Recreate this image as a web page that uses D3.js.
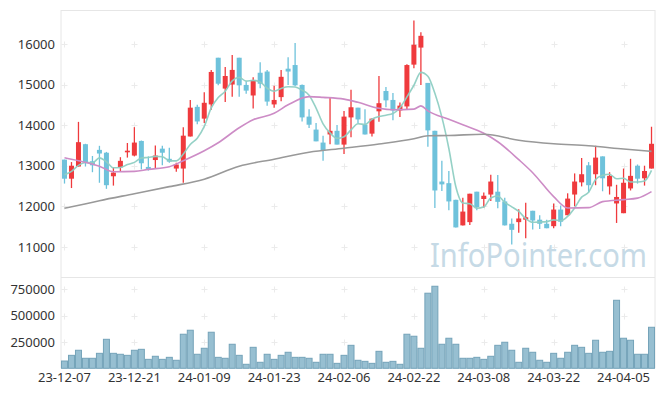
<!DOCTYPE html>
<html><head><meta charset="utf-8">
<script src="https://cdn.jsdelivr.net/npm/d3@7/dist/d3.min.js"></script>
<style>
body{margin:0;background:#fff}
svg{display:block}
text{font-family:"Noto Sans","Open Sans",sans-serif}
</style>
</head><body><svg id="chart" width="665" height="396"></svg>
<script>
const dates = ["23-12-07","23-12-08","23-12-11","23-12-12","23-12-13","23-12-14","23-12-15","23-12-18","23-12-19","23-12-20",
"23-12-21","23-12-22","23-12-26","23-12-27","23-12-28","24-01-02","24-01-03","24-01-04","24-01-05","24-01-08",
"24-01-09","24-01-10","24-01-11","24-01-12","24-01-15","24-01-16","24-01-17","24-01-18","24-01-19","24-01-22",
"24-01-23","24-01-24","24-01-25","24-01-26","24-01-29","24-01-30","24-01-31","24-02-01","24-02-02","24-02-05",
"24-02-06","24-02-07","24-02-08","24-02-13","24-02-14","24-02-15","24-02-16","24-02-19","24-02-20","24-02-21",
"24-02-22","24-02-23","24-02-26","24-02-27","24-02-28","24-02-29","24-03-04","24-03-05","24-03-06","24-03-07",
"24-03-08","24-03-11","24-03-12","24-03-13","24-03-14","24-03-15","24-03-18","24-03-19","24-03-20","24-03-21",
"24-03-22","24-03-25","24-03-26","24-03-27","24-03-28","24-03-29","24-04-01","24-04-02","24-04-03","24-04-04",
"24-04-05","24-04-08","24-04-09","24-04-11","24-04-12"];

const opens = [13150,12680,12980,13530,13110,13390,13320,12740,12960,13330,
13250,13610,12970,13140,13420,13170,12930,12930,13720,14450,
14160,14510,15660,14900,15000,15660,14990,14730,15290,15320,
14510,14690,15390,15480,14990,14210,13890,13570,13770,13860,
13520,14190,14430,14010,13790,14340,14840,14620,14360,14460,
15490,15910,15040,13860,12610,12570,12160,11530,11610,12360,
12180,12290,12360,12120,11570,11610,11670,11890,11670,11570,
11510,11920,11780,12290,12590,13010,12790,13230,12490,12070,
11830,12440,13000,12690,12930];

const highs = [13150,13090,14080,13540,13240,13490,13340,12960,13210,13560,
13950,13620,13230,13500,13490,13440,13070,13950,14620,14500,
14810,15360,15660,15430,15730,15660,15080,15180,15550,15360,
14970,15360,15670,16020,15000,14390,14050,13740,14690,14000,
14350,14870,14430,14390,14160,15210,14940,14790,14560,15500,
16580,16290,15040,13860,13120,12870,12160,12210,12310,12360,
12340,12780,12770,12210,11700,11930,12090,11890,11780,11670,
12070,12020,12320,12810,13190,13090,13490,13230,12840,12530,
12930,13170,13030,13000,13960];

const lows = [12560,12450,12980,12980,12840,12580,12430,12510,12850,13200,
13230,12910,12880,12920,13010,13070,12850,12580,13720,14020,
14050,14380,14980,14570,14700,14700,14770,14410,14910,14480,
14430,14590,14990,14960,14090,13930,13600,13120,13530,13520,
13290,13700,14050,13770,13720,14080,14440,14120,14200,14390,
15400,14990,13470,11960,12380,11900,11480,11530,11540,11900,
11970,12130,11950,11530,11060,11350,11210,11430,11440,11460,
11460,11510,11780,12000,12490,12340,12520,12370,12290,11590,
11830,12390,12560,12510,12930];

const closes = [12680,13000,13580,13080,13010,13300,12520,12830,13120,13370,
13570,13060,12900,13250,13320,13100,13030,13740,14430,14090,
14550,15310,15020,15210,15360,14980,14850,15110,15020,14580,
14620,15190,15320,14980,14190,14010,13600,13380,13860,13520,
14210,14440,14140,13770,14160,14540,14610,14360,14480,15480,
15980,16200,13870,12390,12540,12120,11480,11870,12310,11980,
12260,12610,12110,11530,11420,11700,11730,11650,11570,11460,
11920,11620,12190,12610,12790,12520,13200,12690,12750,12230,
12580,12750,12680,12870,13540];

const volumes = [69000,123000,171000,95000,95000,142000,275000,142000,133000,123000,
171000,180000,85000,114000,85000,104000,76000,323000,361000,133000,
190000,342000,104000,95000,228000,123000,38000,199000,57000,133000,
85000,123000,152000,104000,104000,95000,57000,133000,133000,47000,
123000,218000,76000,66000,47000,161000,57000,66000,38000,323000,
304000,190000,712000,778000,228000,285000,228000,95000,95000,104000,
85000,114000,218000,247000,171000,57000,190000,152000,76000,57000,
142000,95000,152000,218000,199000,142000,266000,152000,161000,645000,
285000,266000,133000,133000,389000];

const ma5Head = [12780,12860,13010,13080];
const ma20Days = [0,2,5,7,10,12,15,17,20,22,25,27,30,32,35,37,40,42,45,47,50,51,52,55,57,60,62,65,67,70,72,75,77,80,82,84];
const ma20Vals = [13196,13123,12988,12850,12860,12910,12976,13123,13369,13566,13934,14131,14291,14500,14702,14684,14640,14561,14414,14377,14394,14475,14352,14143,14008,13799,13590,13150,12828,12238,11960,11967,12115,12164,12201,12361];
const ma60Days = [0,5,10,15,20,25,30,35,40,45,50,52,55,60,65,70,75,80,84];
const ma60Vals = [11950,12139,12311,12484,12668,12988,13160,13332,13430,13534,13664,13738,13745,13775,13627,13541,13492,13411,13352];

const priceTicks = [11000,12000,13000,14000,15000,16000];
const volumeTicks = [250000,500000,750000];
const dateTickIdx = [0,10,20,30,40,50,60,70,80];

const svg = d3.select("#chart");
const L = 61, R = 655, T = 10, MID = 277.5, B = 368.3;

const x = d3.scaleBand().domain(dates).range([L, R]).padding(0);
const bw = x.bandwidth();
const cx = d => x(d) + bw / 2;
const y = d3.scaleLinear().domain([10246, 16836]).range([MID, T]);
const yv = d3.scaleLinear().domain([0, 861000]).range([B, MID]);

const grid = "#ebebeb";
// frame
const frame = svg.append("g").attr("stroke", "#e6e6e6").attr("stroke-width", 1).attr("fill", "none");
frame.append("line").attr("x1", L).attr("x2", L).attr("y1", T).attr("y2", B);
frame.append("line").attr("x1", R).attr("x2", R).attr("y1", T).attr("y2", B);
frame.append("line").attr("x1", L).attr("x2", R).attr("y1", T + 0.5).attr("y2", T + 0.5);
frame.append("line").attr("x1", L).attr("x2", R).attr("y1", MID).attr("y2", MID);

// grid crosses
const crossG = svg.append("g").attr("stroke", grid).attr("stroke-width", 1);
function cross(px, py) {
  crossG.append("line").attr("x1", px - 3).attr("x2", px + 3).attr("y1", py).attr("y2", py);
  crossG.append("line").attr("x1", px).attr("x2", px).attr("y1", py - 3).attr("y2", py + 3);
}
dateTickIdx.forEach(i => {
  const px = Math.round(cx(dates[i])) + 0.5;
  priceTicks.forEach(v => cross(px, Math.round(y(v)) + 0.5));
  volumeTicks.forEach(v => cross(px, Math.round(yv(v)) + 0.5));
});

// watermark
svg.append("text").attr("x", 430).attr("y", 267).attr("font-size", 30)
  .attr("textLength", 217).attr("lengthAdjust", "spacingAndGlyphs")
  .attr("transform", "translate(430,267) scale(1,1.1) translate(-430,-267)")
  .attr("fill", "#c6dae6").text("InfoPointer.com");

// volume bars
svg.append("g").selectAll("rect").data(dates).join("rect")
  .attr("x", d => x(d) + 0.5).attr("width", bw - 1)
  .attr("y", (d, i) => yv(volumes[i])).attr("height", (d, i) => B - yv(volumes[i]))
  .attr("fill", "#97bfd1").attr("stroke", "#74a3b9").attr("stroke-width", 1);

// candles
const up = "#ef3a3d", down = "#6ec2db";
const cg = svg.append("g");
dates.forEach((d, i) => {
  const col = closes[i] >= opens[i] ? up : down;
  const c = cx(d);
  cg.append("line").attr("x1", c).attr("x2", c).attr("y1", y(highs[i])).attr("y2", y(lows[i]))
    .attr("stroke", col).attr("stroke-width", 1.3);
  const top = y(Math.max(opens[i], closes[i])), bot = y(Math.min(opens[i], closes[i]));
  cg.append("rect").attr("x", c - 2.5).attr("width", 5).attr("y", top)
    .attr("height", Math.max(1.2, bot - top)).attr("fill", col);
});

// moving averages
const ma5 = dates.map((d, i) => i < 4 ? ma5Head[i] : d3.mean(closes.slice(i - 4, i + 1)));
const line = d3.line().curve(d3.curveMonotoneX);
svg.append("path").attr("d", line(ma5.map((v, i) => [cx(dates[i]), y(v)])))
  .attr("fill", "none").attr("stroke", "#8fcfc3").attr("stroke-width", 1.6).attr("opacity", 0.95);
svg.append("path").attr("d", line(ma20Days.map((k, j) => [cx(dates[k]), y(ma20Vals[j])])))
  .attr("fill", "none").attr("stroke", "#cd8cc6").attr("stroke-width", 1.6);
svg.append("path").attr("d", line(ma60Days.map((k, j) => [cx(dates[k]), y(ma60Vals[j])])))
  .attr("fill", "none").attr("stroke", "#999999").attr("stroke-width", 1.6);

// axes labels
const lab = svg.append("g").attr("fill", "#333").attr("font-size", 13);
priceTicks.forEach(v => lab.append("text").attr("x", 55).attr("y", y(v)).attr("dy", "0.36em")
  .attr("text-anchor", "end").text(v));
volumeTicks.forEach(v => lab.append("text").attr("x", 55).attr("y", yv(v)).attr("dy", "0.36em")
  .attr("text-anchor", "end").text(v));
dateTickIdx.forEach(i => lab.append("text").attr("x", cx(dates[i])).attr("y", 382)
  .attr("text-anchor", "middle").text(dates[i]));
</script>
</body></html>
